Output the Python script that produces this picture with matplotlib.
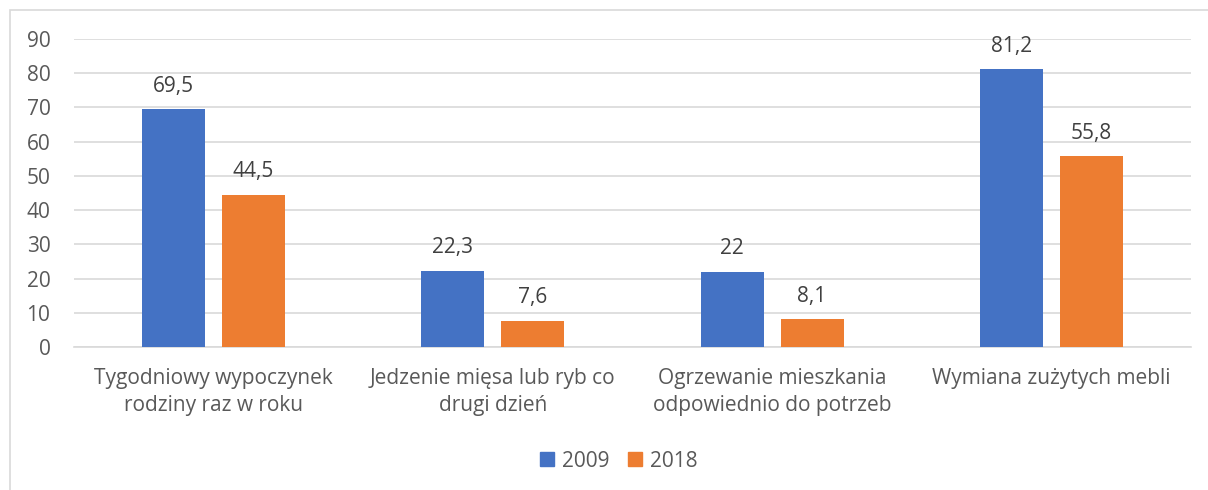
import numpy as np
import matplotlib.pyplot as plt
from matplotlib.patches import Rectangle, Patch

categories = ["Tygodniowy wypoczynek\nrodziny raz w roku",
              "Jedzenie mięsa lub ryb co\ndrugi dzień",
              "Ogrzewanie mieszkania\nodpowiednio do potrzeb",
              "Wymiana zużytych mebli"]
years = ["2009", "2018"]
values_2009 = [69.5, 22.3, 22.0, 81.2]
values_2018 = [44.5, 7.6, 8.1, 55.8]
labels_2009 = ["69,5", "22,3", "22", "81,2"]
labels_2018 = ["44,5", "7,6", "8,1", "55,8"]

plt.rcParams['font.family'] = ['Open Sans', 'DejaVu Sans']
txt = '#595959'
blue = '#4472C4'
orange = '#ED7D31'
fs = 15

fig = plt.figure(figsize=(12.08, 4.9), dpi=100)
# outer chart border (Excel-like frame)
fig.patches.append(Rectangle((10/1208, -0.05), 1.1, 1 - 10/490 + 0.05,
                             transform=fig.transFigure, fill=False,
                             edgecolor='#D9D9D9', linewidth=1.2))

ax = fig.add_axes([74/1208, 1 - 347/490, (1191 - 74)/1208, (347 - 39)/490])
x = np.arange(len(categories))
w = 0.226
off = 0.143
b1 = ax.bar(x - off, values_2009, w, color=blue, zorder=3)
b2 = ax.bar(x + off, values_2018, w, color=orange, zorder=3)

for bars, labs in ((b1, labels_2009), (b2, labels_2018)):
    for r, lab in zip(bars, labs):
        ax.annotate(lab, (r.get_x() + r.get_width()/2, r.get_height()),
                    xytext=(0, 9), textcoords='offset points',
                    ha='center', va='bottom', fontsize=fs, color='#404040')

ax.set_xlim(-0.5, 3.5)
ax.set_ylim(0, 90)
ax.set_yticks(range(0, 91, 10))
ax.set_xticks(x)
ax.set_xticklabels(categories, fontsize=fs, color=txt, linespacing=1.4)
ax.tick_params(axis='y', labelsize=fs, labelcolor=txt, length=0, pad=17)
ax.tick_params(axis='x', length=0, pad=15)
ax.grid(axis='y', color='#D9D9D9', linewidth=1.2, zorder=0)
for s in ['top', 'right', 'left']:
    ax.spines[s].set_visible(False)
ax.spines['bottom'].set_color('#D9D9D9')
ax.spines['bottom'].set_linewidth(1.2)

handles = [Patch(color=blue), Patch(color=orange)]
fig.legend(handles, years, loc='center', bbox_to_anchor=(619/1208, 1 - 461/490),
           ncol=2, frameon=False, fontsize=fs, labelcolor=txt,
           handlelength=0.65, handleheight=0.65, handletextpad=0.4,
           columnspacing=0.9)

fig.savefig('out.png', dpi=100)
